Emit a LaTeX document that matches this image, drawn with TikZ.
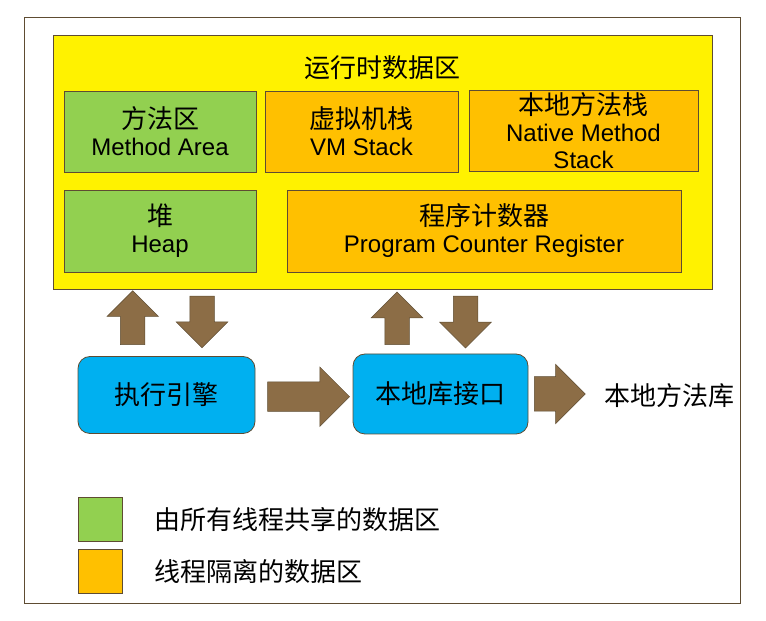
\documentclass[tikz,border=0pt]{standalone}
\usepackage{fontspec}
\setmainfont{Liberation Sans}
\newfontfamily\cjk{Noto Sans CJK SC}
\usetikzlibrary{shapes.arrows, positioning}
\definecolor{framebrown}{RGB}{94,76,50}
\definecolor{arrowbrown}{RGB}{140,109,70}
\definecolor{sharedgreen}{RGB}{146,208,80}
\definecolor{privateorange}{RGB}{255,192,0}
\definecolor{engineblue}{RGB}{0,176,240}
\newcommand{\zh}[1]{{\cjk\fontsize{26}{28}\selectfont #1}}

\begin{document}
\begin{tikzpicture}[x=1pt, y=1pt, font=\fontsize{24}{27}\selectfont,
  area/.style={draw=framebrown, line width=.8pt, minimum width=#1, minimum height=81pt, inner sep=0pt, align=center},
  shared/.style={area=#1, fill=sharedgreen},
  private/.style={area=#1, fill=privateorange},
  engine/.style={draw=framebrown, line width=.8pt, fill=engineblue, rounded corners=12pt, minimum width=177pt, minimum height=77pt},
  bigarrow/.style={single arrow, anchor=tail, draw=framebrown, line width=.5pt, fill=arrowbrown, inner xsep=0pt, inner ysep=12pt, minimum width=51pt, single arrow head extend=13.5pt}]
\useasboundingbox (0,0) rectangle (766,621);
\draw[framebrown, line width=.8pt] (24,18) rectangle (740,604);
%
\node[draw=framebrown, line width=.8pt, fill=yellow, minimum width=659pt, minimum height=254pt] (rtdarea) at (382.5,459) {};
\node (rtda) at (382.5,553) {\zh{运行时数据区}};
\node[shared=192pt] (method) at (160,489.5) {\zh{方法区}\\Method Area};
\node[private=193pt] (vmstack) at (361.5,489.5) {\zh{虚拟机栈}\\VM Stack};
\node[private=229pt] (native) at (583.5,490.5) {\zh{本地方法栈}\\Native Method\\Stack};
\node[shared=192pt, minimum height=82pt] (heap) at (160,390) {\zh{堆}\\Heap};
\node[private=394pt, minimum height=82pt] (pc) at (484,390) {\zh{程序计数器}\\Program Counter Register};
%
\node[engine] (exec) at (166.5,226) {\zh{执行引擎}};
\node[engine, minimum width=175pt, minimum height=80pt] (jni) at (440.5,227) {\zh{本地库接口}};
\node[anchor=west, inner sep=0pt] (nlib) at (604,225) {\zh{本地方法库}};
%
\node[bigarrow, rotate=90, minimum height=54pt] (up1) at (132.7,276) {};
\node[bigarrow, rotate=-90, minimum height=51.5pt] (down1) at (202,325) {};
\node[bigarrow, rotate=90, minimum height=52.7pt] (up2) at (397,276) {};
\node[bigarrow, rotate=-90, minimum height=51.7pt] (down2) at (465.5,325) {};
\node[bigarrow, inner ysep=14.5pt, minimum height=82pt, minimum width=59pt, single arrow head extend=15pt] (right1) at (267.3,224.3) {};
\node[bigarrow, inner ysep=17pt, minimum height=51pt, minimum width=59pt, single arrow head extend=12.5pt] (right2) at (534,227) {};
%
\node[draw=framebrown, line width=.8pt, fill=sharedgreen, minimum size=44pt, inner sep=0pt] (keyshared) at (100.8,101.5) {};
\node[draw=framebrown, line width=.8pt, fill=privateorange, minimum size=44pt, inner sep=0pt] (keyprivate) at (100.8,49.7) {};
\node[right=31pt of keyshared, inner sep=0pt] (keysharedtxt) {\zh{由所有线程共享的数据区}};
\node[right=31pt of keyprivate, inner sep=0pt] (keyprivatetxt) {\zh{线程隔离的数据区}};
\end{tikzpicture}
\end{document}
